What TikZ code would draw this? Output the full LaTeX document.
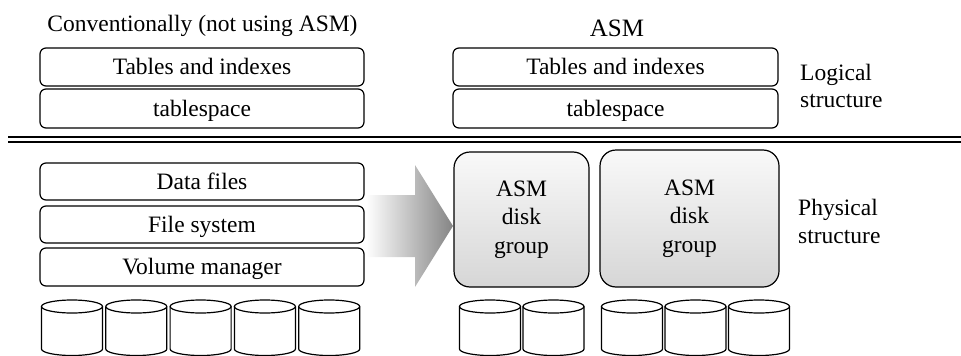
\documentclass[tikz,border=0pt]{standalone}
\usepackage{fontspec}
\setmainfont{Liberation Serif}
\begin{document}
\begin{tikzpicture}[x=1pt,y=-1pt,
  every node/.style={font=\fontsize{23.5}{28.5}\selectfont, inner sep=0pt},
  layer/.style={draw, line width=1.2pt, rounded corners=6pt, text height=15.5pt, text depth=0pt},
  dgroup/.style={draw, line width=1.2pt, rounded corners=16pt, top color=gray!5, bottom color=gray!32, align=center},
  diskline/.style={line width=1.2pt},
  sepline/.style={line width=1.6pt},
  disk/.pic={
    \draw[diskline, fill=white] (-30.5,0) -- (-30.5,42.5) arc[start angle=180, end angle=360, x radius=30.5pt, y radius=6.5pt] -- (30.5,0);
    \draw[diskline] (0,0) ellipse [x radius=30.5pt, y radius=6.5pt];
  }]
\useasboundingbox (0,0) rectangle (961,356);

% titles
\node[anchor=base] (ttl1) at (202.5,31) {Conventionally (not using ASM)};
\node[anchor=base] (ttl2) at (617,36) {\fontsize{25}{30}\selectfont ASM};

% logical layers
\node[layer, minimum width=324pt, minimum height=38pt] (lt1) at (202,67) {Tables and indexes};
\node[layer, minimum width=324pt, minimum height=39pt] (lt2) at (202,108.5) {tablespace};
\node[layer, minimum width=325pt, minimum height=38pt] (rt1) at (615.5,67) {Tables and indexes};
\node[layer, minimum width=325pt, minimum height=39pt] (rt2) at (615.5,108.5) {tablespace};

\node[anchor=base west] (log1) at (800,80) {Logical};
\node[anchor=base west] (log2) at (800,107) {structure};

% separator
\coordinate (s1a) at (8,136.5); \coordinate (s1b) at (961,136.5);
\coordinate (s2a) at (8,142); \coordinate (s2b) at (961,142);
\draw[sepline, line width=2pt] (s1a) -- (s1b);
\draw[sepline, line width=1.4pt] (s2a) -- (s2b);

% physical layers (left)
\node[layer, minimum width=324pt, minimum height=37pt] (df) at (202,181.5) {Data files};
\node[layer, minimum width=324pt, minimum height=37pt] (fs) at (202,224.5) {File system};
\node[layer, minimum width=324pt, minimum height=38pt] (vm) at (202,267) {Volume manager};

% arrow
\shade[left color=white, right color=black!48]
  (366,195) -- (415,195) -- (415,165) -- (453,226) -- (415,287) -- (415,257) -- (366,257) -- cycle;

% ASM disk groups
\node[dgroup, minimum width=135pt, minimum height=135pt] (g1) at (521.5,219.5) {ASM\\disk\\group};
\node[dgroup, minimum width=179pt, minimum height=137pt] (g2) at (689.5,218.5) {ASM\\disk\\group};

\node[anchor=base west] (phy1) at (798,215) {Physical};
\node[anchor=base west] (phy2) at (798,243) {structure};

% disks
\foreach \cx in {72,136.3,200.6,264.9,329.2,490,553.5,632,695.5,759}
  \pic at (\cx,306.5) {disk};
\end{tikzpicture}
\end{document}
